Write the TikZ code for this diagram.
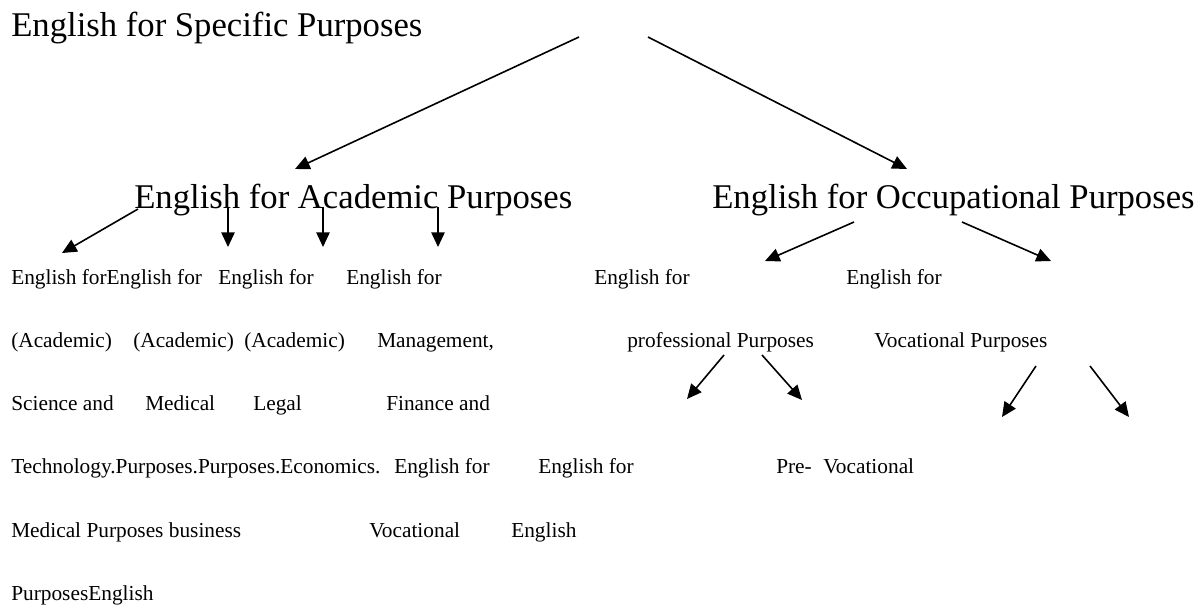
\documentclass[tikz,border=0pt]{standalone}
\usepackage{fontspec}
\setmainfont{Liberation Serif}
\usetikzlibrary{arrows.meta}
\begin{document}
\begin{tikzpicture}[x=0.75pt,y=-0.75pt,
  heading/.style={anchor=base west,inner sep=0pt,font=\fontsize{26}{30}\selectfont},
  item/.style={anchor=base west,inner sep=0pt,font=\fontsize{16}{19}\selectfont},
  branch/.style={line width=1.2pt,-{Triangle[length=11pt,width=10pt]}}]
\useasboundingbox (0,0) rectangle (1198,608);

% headings
\node[heading] (esp) at (11,36)  {English for Specific Purposes};
\node[heading] (eap) at (134,208) {English for Academic Purposes};
\node[heading] (eop) at (712,208) {English for Occupational Purposes};

% row 1
\node[item] (a1) at (11,284)  {English forEnglish for};
\node[item] (a2) at (218,284) {English for};
\node[item] (a3) at (346,284) {English for};
\node[item] (o1) at (594,284) {English for};
\node[item] (o2) at (846,284) {English for};
% row 2
\node[item] (b1) at (11,347)  {(Academic)};
\node[item] (b2) at (133,347) {(Academic)};
\node[item] (b3) at (244,347) {(Academic)};
\node[item] (b4) at (377,347) {Management,};
\node[item] (p1) at (627,347) {professional Purposes};
\node[item] (p2) at (874,347) {Vocational Purposes};
% row 3
\node[item] (c1) at (11,410)  {Science and};
\node[item] (c2) at (145,410) {Medical};
\node[item] (c3) at (253,410) {Legal};
\node[item] (c4) at (386,410) {Finance and};
% row 4
\node[item] (d1) at (11,473)  {Technology.Purposes.Purposes.Economics.};
\node[item] (d2) at (394,473) {English for};
\node[item] (d3) at (538,473) {English for};
\node[item] (d4) at (776,473) {Pre-};
\node[item] (d5) at (823,473) {Vocational};
% row 5
\node[item] (e1) at (11,537)  {Medical Purposes business};
\node[item] (e2) at (369,537) {Vocational};
\node[item] (e3) at (511,537) {English};
% row 6
\node[item] (f1) at (11,600)  {PurposesEnglish};

% arrow end points
\coordinate (espL) at (579,37);   \coordinate (eapT) at (295,169);
\coordinate (espR) at (648,37);   \coordinate (eopT) at (907,169);
\coordinate (eapS0) at (138,209); \coordinate (eapE0) at (62,253);
\coordinate (eapS1) at (228,207); \coordinate (eapE1) at (228,247);
\coordinate (eapS2) at (323,207); \coordinate (eapE2) at (323,247);
\coordinate (eapS3) at (438,207); \coordinate (eapE3) at (438,247);
\coordinate (eopS1) at (854,222); \coordinate (eopE1) at (765,261);
\coordinate (eopS2) at (962,222); \coordinate (eopE2) at (1051,261);
\coordinate (proS1) at (724,355); \coordinate (proE1) at (687,399);
\coordinate (proS2) at (762,355); \coordinate (proE2) at (802,400);
\coordinate (vocS1) at (1036,366); \coordinate (vocE1) at (1002,417);
\coordinate (vocS2) at (1090,366); \coordinate (vocE2) at (1129,417);

% arrows
\draw[branch] (espL) -- (eapT);
\draw[branch] (espR) -- (eopT);
\draw[branch] (eapS0) -- (eapE0);
\draw[branch] (eapS1) -- (eapE1);
\draw[branch] (eapS2) -- (eapE2);
\draw[branch] (eapS3) -- (eapE3);
\draw[branch] (eopS1) -- (eopE1);
\draw[branch] (eopS2) -- (eopE2);
\draw[branch] (proS1) -- (proE1);
\draw[branch] (proS2) -- (proE2);
\draw[branch] (vocS1) -- (vocE1);
\draw[branch] (vocS2) -- (vocE2);
\end{tikzpicture}
\end{document}
